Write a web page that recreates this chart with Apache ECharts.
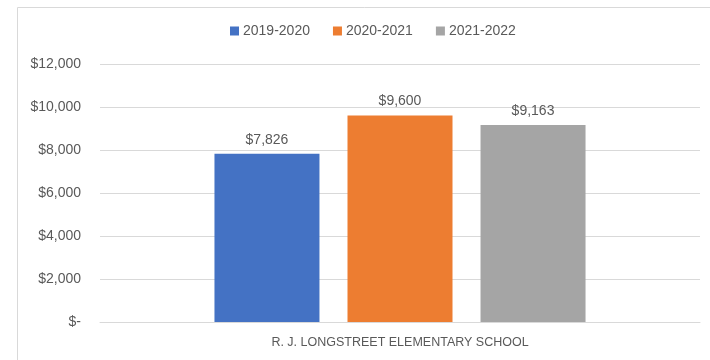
<!DOCTYPE html>
<html><head><meta charset="utf-8">
<script src="https://cdn.jsdelivr.net/npm/echarts@6/dist/echarts.min.js"></script>
<style>html,body{margin:0;padding:0;background:#fff}#c{width:710px;height:360px}</style>
</head><body><div id="c"></div>
<script>
const categories = ['R. J. LONGSTREET ELEMENTARY SCHOOL'];
const seriesNames = ['2019-2020', '2020-2021', '2021-2022'];
const values2019 = [7826];
const values2020 = [9600];
const values2021 = [9163];
const tickLabels = ['$-', '$2,000', '$4,000', '$6,000', '$8,000', '$10,000', '$12,000'];
const colors = ['#4472C4', '#ED7D31', '#A5A5A5'];

const font = 'Liberation Sans, Arial, sans-serif';
const txt = '#595959';
function money(v){ return v === 0 ? '$-' : '$' + v.toLocaleString('en-US'); }
const allValues = [values2019, values2020, values2021];

const chart = echarts.init(document.getElementById('c'), null, {renderer: 'canvas'});
chart.setOption({
  animation: false,
  color: colors,
  graphic: [{
    type: 'rect', left: 15, top: 5,
    shape: {width: 720, height: 380},
    style: {fill: 'none', stroke: '#d9d9d9', lineWidth: 1}
  }],
  legend: {
    top: 24, left: 230, padding: 0,
    itemWidth: 9, itemHeight: 9, itemGap: 23,
    icon: 'rect',
    textStyle: {color: txt, fontFamily: font, fontSize: 14, padding: [0,0,0,-1]},
    data: seriesNames
  },
  grid: {left: 100, right: 10, top: 64, bottom: 38, containLabel: false},
  xAxis: {
    type: 'category', data: categories,
    axisLine: {lineStyle: {color: '#d9d9d9'}},
    axisTick: {show: false},
    axisLabel: {color: txt, fontFamily: font, fontSize: 12.5, margin: 14}
  },
  yAxis: {
    type: 'value', min: 0, max: 12000, interval: 2000,
    axisLine: {show: false}, axisTick: {show: false},
    splitLine: {lineStyle: {color: '#d9d9d9'}},
    axisLabel: {color: txt, fontFamily: font, fontSize: 14, margin: 19,
      formatter: v => tickLabels[Math.round(v / 2000)]}
  },
  series: seriesNames.map((n, i) => ({
    name: n, type: 'bar', data: allValues[i],
    barWidth: 105, barGap: '26.7%',
    label: {show: true, position: 'top', distance: 7, color: txt, fontFamily: font, fontSize: 14,
      formatter: p => money(p.value)}
  }))
});
</script></body></html>
